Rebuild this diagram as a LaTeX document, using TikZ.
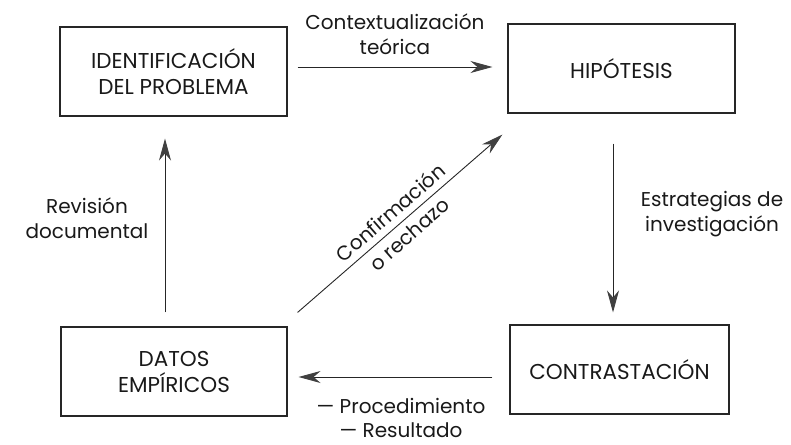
\documentclass[tikz,border=0pt]{standalone}
\usepackage{fontspec}
\setmainfont{Poppins}
\usetikzlibrary{arrows.meta,calc}
\begin{document}
\begin{tikzpicture}[x=1pt,y=-1pt,
  box/.style={draw=black!85,line width=1.1pt,minimum height=89pt,inner sep=0pt,font=\fontsize{21.5}{26}\selectfont,align=center,text=black!90},
  lbl/.style={font=\fontsize{20}{25}\selectfont,align=center,text=black!90},
  arr/.style={draw=black!85,line width=0.9pt,-{Stealth[length=22pt,width=12pt,inset=7pt,fill=black!75,color=black!75]}}]
\useasboundingbox (0,0) rectangle (791,444);
\node[box,minimum width=227pt] (b1) at (173.5,71.5) {IDENTIFICACIÓN\\DEL PROBLEMA};
\node[box,minimum width=227pt] (b2) at (621.5,68.5) {HIPÓTESIS};
\node[box,minimum width=226pt] (b3) at (174,371.5) {DATOS\\EMPÍRICOS};
\node[box,minimum width=219pt] (b4) at (619.5,369.5) {CONTRASTACIÓN};
\coordinate (yt) at (0,67);
\coordinate (yb) at (0,377);
\coordinate (xl) at (165,0);
\coordinate (xr) at (613,0);
% top
\draw[arr,shorten <=10pt,shorten >=15pt] (b1.east |- yt) -- (b2.west |- yt);
\node[lbl] (l1) at (395,34) {Contextualización\\teórica};
% left vertical
\draw[arr,shorten <=14pt,shorten >=22pt] (b3.north -| xl) -- (b1.south -| xl);
\node[lbl] (l2) at (87,218) {Revisión\\documental};
% right vertical
\draw[arr,shorten <=30pt,shorten >=12pt] (b2.south -| xr) -- (b4.north -| xr);
\node[lbl] (l3) at (712,214) {Estrategias de\\investigación};
% bottom
\draw[arr,shorten <=17pt,shorten >=11pt] (b4.west |- yb) -- (b3.east |- yb);
\node[lbl,font=\fontsize{20}{24}\selectfont] (l4) at (401,418) {— Procedimiento\\— Resultado};
% diagonal
\draw[arr] ([shift={(10,-14)}]b3.north east) -- ([shift={(-5,21)}]b2.south west)
  node[lbl,pos=0.5,sloped,above=3pt] (l5) {Confirmación}
  node[lbl,pos=0.5,sloped,below=3pt] (l6) {o rechazo};
\end{tikzpicture}
\end{document}
